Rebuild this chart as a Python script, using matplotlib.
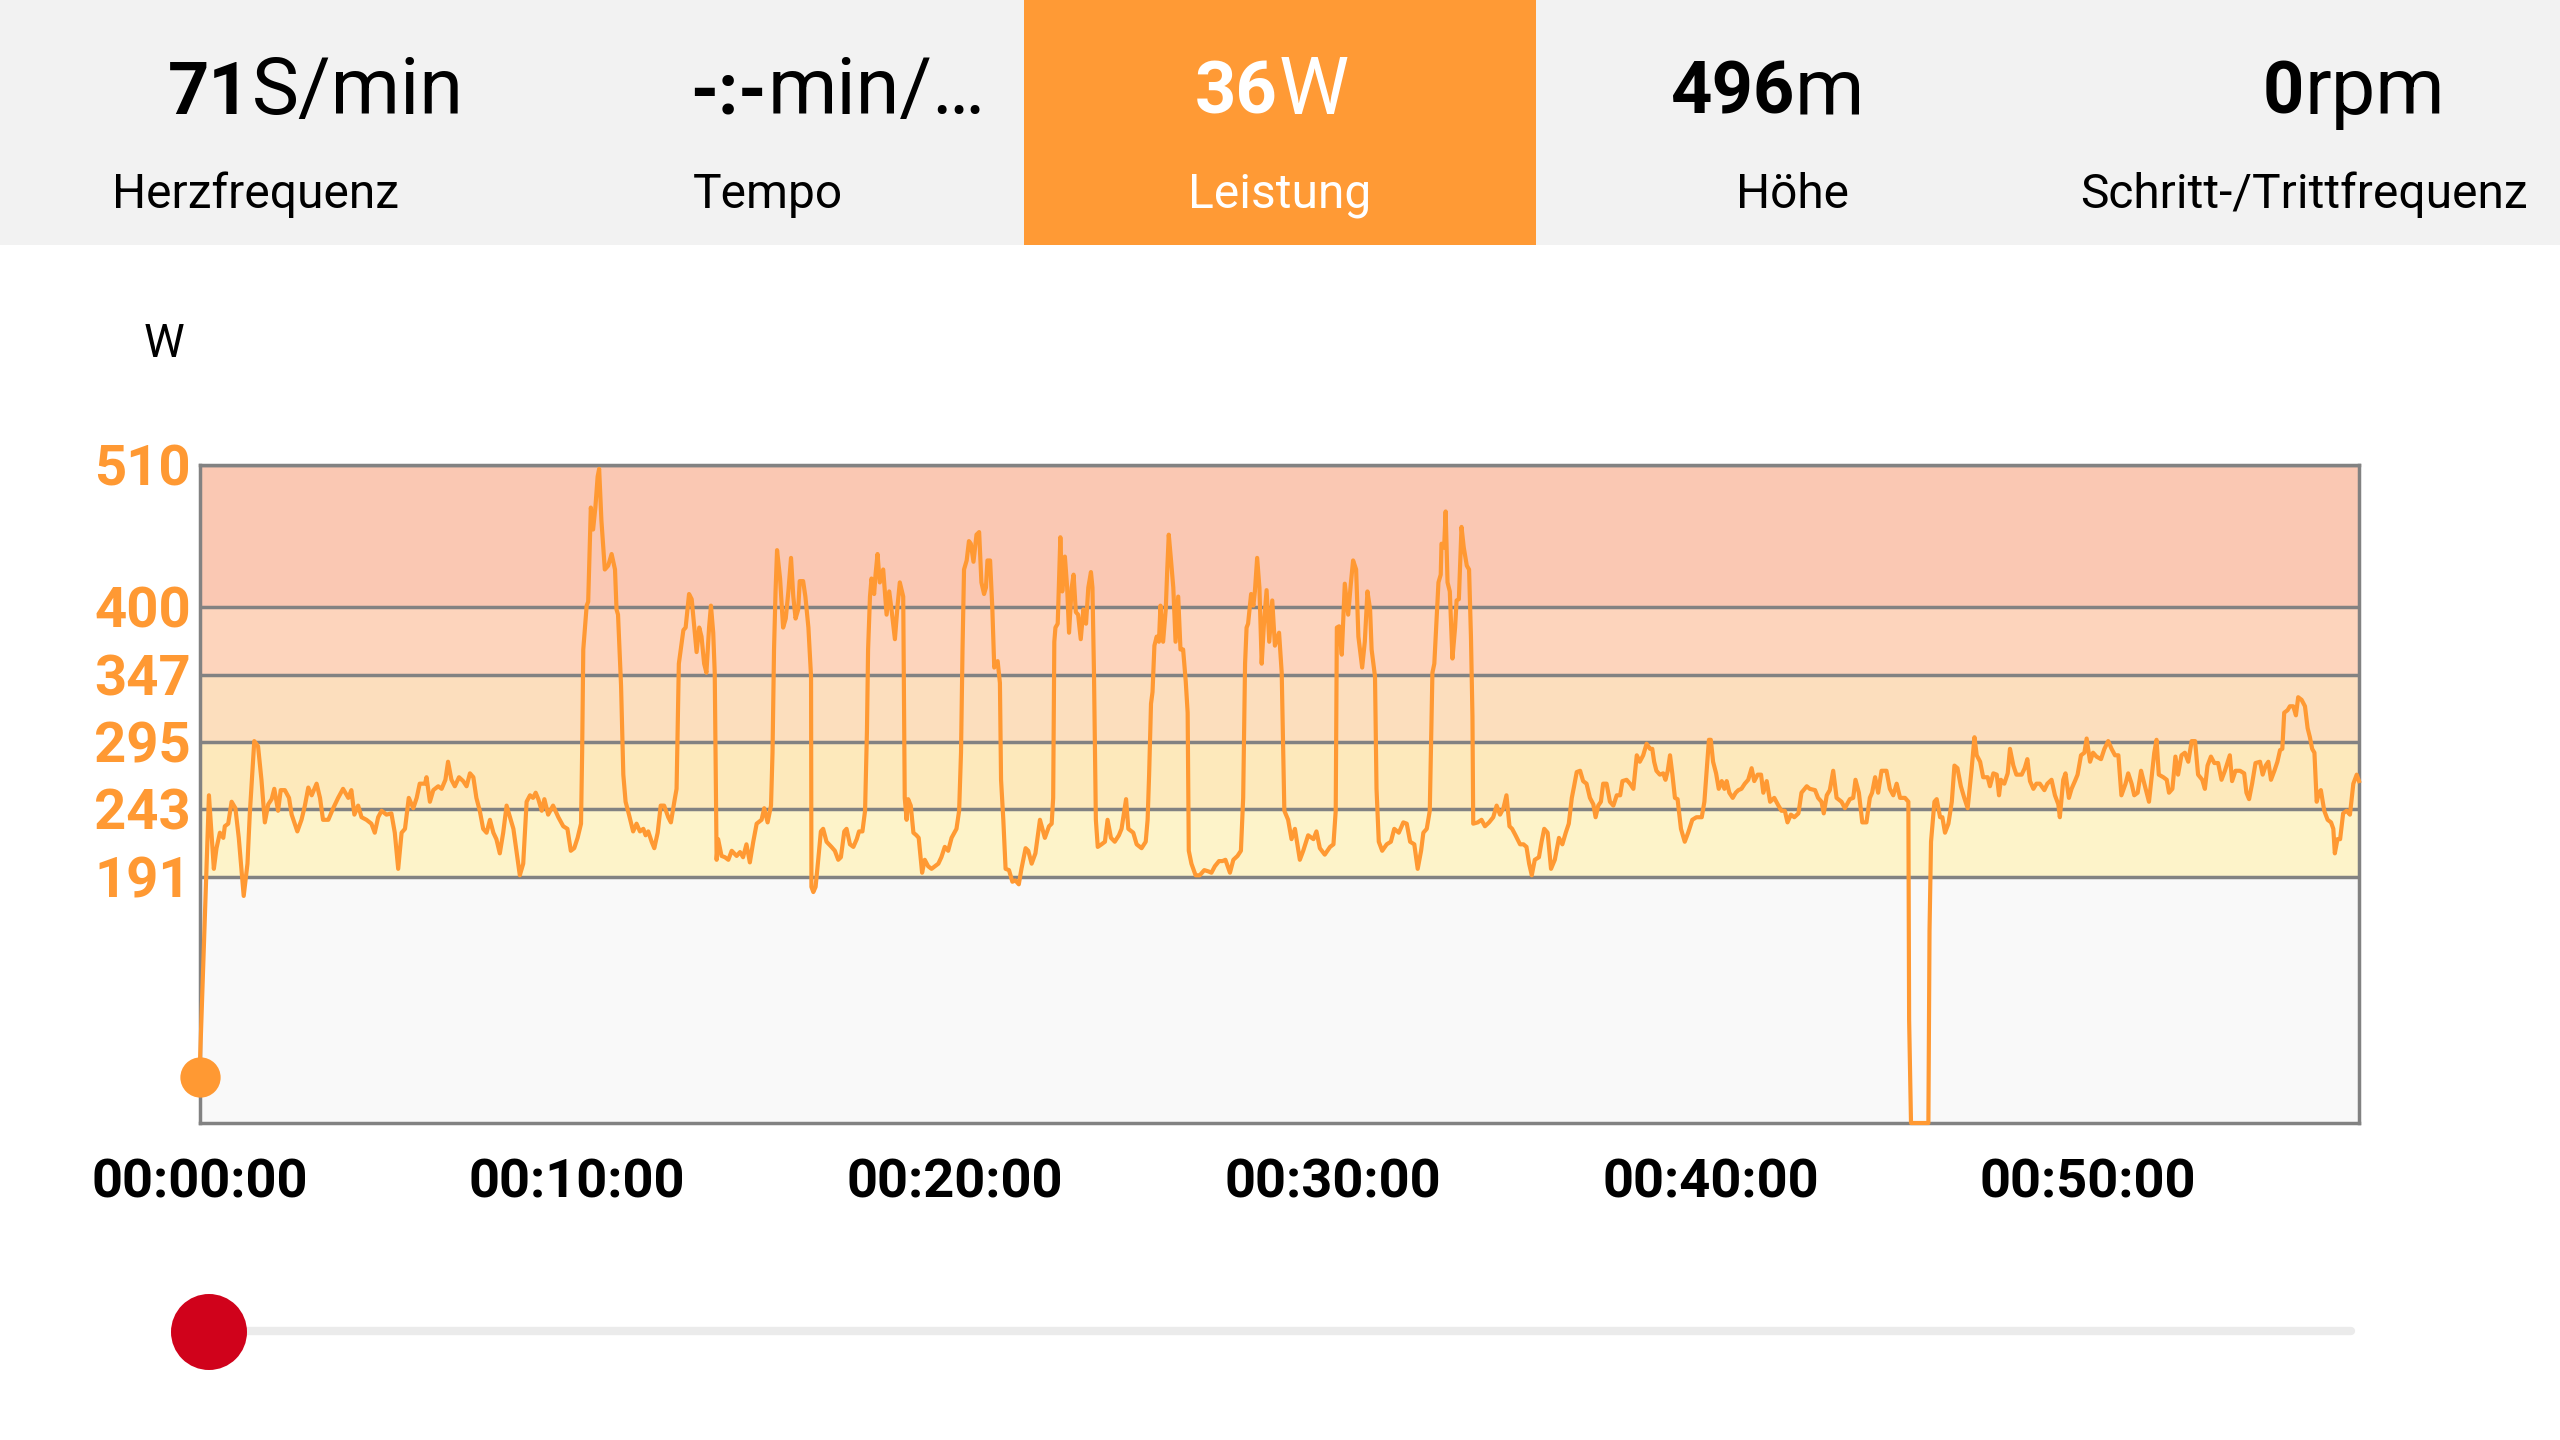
import numpy as np
import matplotlib.pyplot as plt
from matplotlib.patches import Rectangle, Circle

plt.rcParams['font.family'] = ['Roboto', 'DejaVu Sans']

# header tiles
tile_values = ["71", "-:-", "36", "496", "0"]
tile_units = ["S/min", "min/\u2026", "W", "m", "rpm"]
tile_labels = ["Herzfrequenz", "Tempo", "Leistung", "Höhe", "Schritt-/Trittfrequenz"]
active_tile = 2

# power zones (W)
zone_edges = [0, 191, 243, 295, 347, 400, 510]
zone_colors = ["#f9f9f9", "#fdf3c9", "#fde9bb", "#fcdebd", "#fdd4bc", "#fac8b3"]
ytick_vals = [191, 243, 295, 347, 400, 510]

xtick_min = [0, 10, 20, 30, 40, 50]
xtick_labels = ["00:00:00", "00:10:00", "00:20:00", "00:30:00", "00:40:00", "00:50:00"]
t_end = 57.17

# power trace, time in minutes
t1 = [0.0, 0.25, 0.38, 0.45, 0.54, 0.63, 0.67, 0.76, 0.85, 0.95,
      1.04, 1.17, 1.27, 1.33, 1.45, 1.55, 1.64, 1.73, 1.82, 1.91,
      1.98, 2.08, 2.15, 2.26, 2.37, 2.44, 2.52, 2.59, 2.70, 2.79,
      2.88, 2.97, 3.10, 3.19, 3.27, 3.41, 3.54, 3.67, 3.80, 3.94,
      4.02, 4.10, 4.20, 4.29, 4.42, 4.55, 4.64, 4.73, 4.82, 4.95,
      5.08, 5.17, 5.26, 5.35, 5.44, 5.54, 5.66, 5.75, 5.83, 5.97,
      6.01, 6.10, 6.19, 6.32, 6.41, 6.51, 6.58, 6.67, 6.76, 6.87,
      6.98, 7.07, 7.16, 7.25, 7.33, 7.42, 7.51, 7.60, 7.69, 7.78,
      7.86, 7.95, 8.04, 8.13, 8.22, 8.31, 8.39, 8.48, 8.57, 8.66,
      8.75, 8.83, 8.90, 8.97, 9.06, 9.13, 9.23, 9.36]
w1 = [36, 254, 197, 213, 225, 221, 230, 232, 249, 244,
      221, 176, 201, 239, 296, 292, 266, 233, 247, 251,
      259, 242, 258, 258, 252, 239, 232, 226, 235, 246,
      260, 254, 263, 252, 235, 235, 244, 252, 259, 252,
      258, 239, 246, 237, 235, 232, 225, 237, 242, 239,
      240, 225, 197, 225, 228, 252, 244, 252, 263, 263,
      268, 249, 258, 261, 259, 266, 280, 266, 261, 268,
      265, 261, 271, 268, 252, 242, 228, 225, 235, 225,
      220, 209, 225, 246, 237, 228, 211, 192, 201, 249,
      254, 252, 256, 251, 242, 251, 239, 246]

t2 = [9.50, 9.63, 9.74, 9.83, 9.92, 10.01, 10.10, 10.13, 10.16, 10.25,
      10.29, 10.36, 10.42, 10.48, 10.54, 10.58, 10.64, 10.73, 10.82, 10.91,
      11.00, 11.04, 11.08, 11.16, 11.22, 11.28, 11.37, 11.48, 11.57, 11.66,
      11.75, 11.81, 11.88, 11.97, 12.04, 12.13, 12.21, 12.30, 12.41, 12.48,
      12.57, 12.63, 12.69, 12.74, 12.81, 12.87, 12.96, 13.03, 13.10, 13.16,
      13.23, 13.29, 13.36, 13.42, 13.49, 13.54, 13.60, 13.64, 13.69, 13.73,
      13.82, 13.91, 14.00, 14.09, 14.22, 14.31, 14.39, 14.48, 14.57, 14.66,
      14.75, 14.88, 14.95, 15.04, 15.13, 15.17, 15.21, 15.25, 15.29, 15.37,
      15.45, 15.52, 15.59, 15.66, 15.72, 15.78, 15.85, 15.89, 15.98, 16.04,
      16.12, 16.19, 16.20, 16.25, 16.31, 16.38, 16.45, 16.51, 16.60, 16.73,
      16.82, 16.91, 16.98, 17.07, 17.13, 17.22, 17.31, 17.40, 17.46, 17.55,
      17.62, 17.67, 17.70, 17.75, 17.79, 17.86, 17.90, 17.95, 18.01, 18.10,
      18.19, 18.26, 18.32, 18.41, 18.48, 18.54, 18.63, 18.67, 18.72, 18.76,
      18.83, 18.90]
w2 = [237, 230, 228, 211, 213, 221, 232, 287, 367, 401,
      404, 477, 460, 477, 501, 507, 467, 429, 432, 441,
      429, 398, 394, 339, 270, 249, 239, 226, 232, 226,
      228, 223, 226, 218, 213, 225, 246, 246, 237, 233,
      249, 259, 356, 367, 382, 384, 410, 406, 384, 365,
      384, 377, 356, 349, 384, 401, 380, 349, 204, 220,
      207, 206, 204, 211, 207, 210, 206, 216, 202, 218,
      232, 235, 244, 233, 246, 287, 367, 412, 444, 422,
      384, 391, 412, 438, 408, 391, 398, 420, 420, 408,
      384, 346, 183, 179, 183, 204, 226, 228, 218, 214,
      211, 204, 206, 226, 228, 216, 214, 220, 226, 226,
      242, 304, 367, 408, 422, 410, 426, 441, 419, 429,
      394, 412, 398, 375, 401, 419, 408, 252, 235, 251,
      246, 225]

t3 = [18.98, 19.04, 19.13, 19.20, 19.29, 19.38, 19.47, 19.56, 19.64, 19.73,
      19.82, 19.91, 20.04, 20.11, 20.16, 20.20, 20.24, 20.31, 20.37, 20.42,
      20.49, 20.57, 20.64, 20.70, 20.77, 20.82, 20.86, 20.93, 20.99, 21.04,
      21.13, 21.19, 21.22, 21.28, 21.34, 21.43, 21.52, 21.60, 21.69, 21.76,
      21.87, 21.94, 22.03, 22.13, 22.25, 22.38, 22.49, 22.56, 22.60, 22.63,
      22.66, 22.72, 22.79, 22.84, 22.91, 22.97, 23.02, 23.09, 23.14, 23.20,
      23.26, 23.33, 23.40, 23.47, 23.53, 23.60, 23.64, 23.68, 23.73, 23.78,
      23.88, 23.97, 24.04, 24.13, 24.23, 24.34, 24.41, 24.53, 24.59, 24.72,
      24.81, 24.94, 25.05, 25.10, 25.14, 25.19, 25.23, 25.28, 25.34, 25.40,
      25.44, 25.51, 25.58, 25.62, 25.66, 25.72, 25.78, 25.84, 25.91, 25.97,
      26.04, 26.11, 26.16, 26.19, 26.26, 26.37, 26.48, 26.60, 26.71, 26.79,
      26.88, 26.99, 27.08, 27.16, 27.28, 27.37, 27.48, 27.57, 27.63, 27.68,
      27.72, 27.76, 27.84, 27.90, 27.94, 28.00, 28.06, 28.12, 28.18, 28.25,
      28.32, 28.40, 28.47]
w3 = [223, 221, 194, 204, 199, 197, 199, 201, 206, 214,
      211, 221, 228, 242, 287, 367, 429, 436, 451, 449,
      435, 456, 458, 419, 410, 415, 436, 436, 398, 353,
      358, 341, 266, 235, 197, 196, 187, 188, 185, 197,
      213, 211, 201, 209, 235, 221, 230, 232, 252, 373,
      384, 387, 454, 412, 439, 415, 380, 415, 425, 396,
      394, 375, 398, 387, 415, 427, 415, 349, 235, 214,
      216, 218, 235, 221, 218, 223, 228, 251, 228, 225,
      216, 213, 218, 235, 270, 325, 334, 370, 377, 373,
      401, 373, 398, 429, 456, 436, 415, 373, 408, 367,
      367, 342, 318, 211, 201, 192, 192, 196, 195, 194,
      199, 203, 203, 204, 194, 204, 207, 211, 252, 356,
      384, 387, 410, 401, 412, 438, 415, 356, 387, 413,
      373, 405, 370]

t4 = [28.58, 28.65, 28.69, 28.72, 28.82, 28.91, 29.00, 29.13, 29.22, 29.35,
      29.49, 29.57, 29.66, 29.79, 29.93, 30.02, 30.08, 30.11, 30.17, 30.24,
      30.32, 30.41, 30.48, 30.54, 30.62, 30.68, 30.78, 30.85, 30.92, 30.99,
      31.03, 31.12, 31.16, 31.22, 31.31, 31.43, 31.54, 31.63, 31.75, 31.87,
      31.96, 32.05, 32.16, 32.25, 32.34, 32.40, 32.49, 32.57, 32.64, 32.69,
      32.75, 32.80, 32.86, 32.88, 32.95, 32.99, 33.04, 33.10, 33.17, 33.24,
      33.28, 33.34, 33.41, 33.47, 33.55, 33.61, 33.66, 33.70, 33.72, 33.84,
      33.94, 34.03, 34.14, 34.25, 34.34, 34.43, 34.52, 34.60, 34.68, 34.75,
      34.84, 34.96, 35.05, 35.13, 35.20, 35.27, 35.35, 35.46, 35.53, 35.60,
      35.69, 35.78, 35.88, 35.99, 36.08, 36.17, 36.25, 36.33, 36.39, 36.46,
      36.55, 36.63, 36.72, 36.81, 36.90, 36.96, 37.03, 37.10, 37.16, 37.25,
      37.34, 37.43, 37.52, 37.61, 37.67, 37.78, 37.87, 37.96, 38.05]
w4 = [380, 349, 287, 242, 235, 220, 228, 204, 211, 223,
      220, 226, 213, 208, 214, 216, 242, 384, 385, 363,
      418, 394, 418, 436, 429, 377, 353, 373, 412, 398,
      367, 346, 259, 218, 211, 216, 218, 228, 225, 233,
      232, 218, 216, 197, 211, 225, 228, 242, 349, 356,
      391, 419, 425, 449, 446, 474, 419, 412, 360, 384,
      405, 406, 462, 446, 432, 429, 377, 315, 232, 233,
      235, 230, 233, 237, 246, 239, 244, 254, 230, 228,
      223, 216, 216, 214, 201, 192, 204, 206, 218, 228,
      225, 197, 204, 221, 216, 225, 232, 252, 261, 272,
      273, 265, 263, 252, 247, 237, 246, 249, 263, 263,
      249, 246, 254, 254, 265, 266, 263, 259, 285]

t5 = [38.13, 38.22, 38.31, 38.40, 38.46, 38.51, 38.57, 38.66, 38.75, 38.81,
      38.87, 38.93, 38.99, 39.06, 39.13, 39.22, 39.32, 39.41, 39.52, 39.63,
      39.77, 39.84, 39.90, 39.96, 40.01, 40.07, 40.15, 40.22, 40.30, 40.37,
      40.43, 40.50, 40.59, 40.67, 40.74, 40.82, 40.91, 41.00, 41.09, 41.16,
      41.25, 41.34, 41.40, 41.49, 41.58, 41.69, 41.80, 41.88, 41.97, 42.04,
      42.13, 42.22, 42.33, 42.41, 42.55, 42.63, 42.77, 42.85, 42.94, 43.00,
      43.08, 43.16, 43.25, 43.34, 43.47, 43.56, 43.69, 43.78, 43.84, 43.93,
      44.02, 44.13, 44.22, 44.28, 44.36, 44.44, 44.53, 44.66, 44.75, 44.84,
      44.93, 45.02, 45.15, 45.24, 45.26, 45.31, 45.77, 45.80, 45.84, 45.93,
      45.99, 46.08, 46.14, 46.21, 46.30, 46.39, 46.46, 46.54, 46.63, 46.72,
      46.81, 46.91, 46.99, 47.05, 47.14, 47.22, 47.34, 47.40, 47.49, 47.58,
      47.64]
w5 = [280, 285, 294, 290, 290, 280, 273, 270, 271, 266,
      273, 285, 271, 252, 251, 228, 218, 225, 235, 237,
      237, 249, 273, 297, 297, 280, 271, 259, 265, 259,
      265, 256, 252, 256, 258, 259, 263, 266, 275, 265,
      270, 270, 256, 265, 249, 252, 246, 242, 242, 233,
      239, 237, 240, 256, 261, 259, 258, 252, 249, 240,
      254, 258, 273, 252, 249, 244, 251, 252, 266, 256,
      233, 233, 252, 256, 268, 256, 273, 273, 259, 254,
      263, 252, 252, 249, 80, 0, 0, 149, 218, 249,
      251, 237, 237, 225, 232, 249, 277, 275, 261, 252,
      244, 273, 299, 285, 280, 268, 268, 261, 271, 270,
      254]

t6 = [47.69, 47.78, 47.87, 47.93, 48.02, 48.10, 48.24, 48.32, 48.39, 48.46,
      48.55, 48.63, 48.72, 48.84, 48.92, 49.03, 49.12, 49.21, 49.25, 49.34,
      49.40, 49.49, 49.56, 49.65, 49.72, 49.81, 49.90, 49.96, 50.05, 50.13,
      50.22, 50.34, 50.43, 50.53, 50.62, 50.71, 50.80, 50.88, 50.99, 51.06,
      51.15, 51.22, 51.31, 51.40, 51.46, 51.55, 51.61, 51.68, 51.75, 51.81,
      51.87, 51.99, 52.08, 52.14, 52.23, 52.31, 52.38, 52.47, 52.56, 52.65,
      52.74, 52.83, 52.91, 53.02, 53.09, 53.16, 53.25, 53.34, 53.44, 53.53,
      53.62, 53.75, 53.81, 53.90, 54.02, 54.13, 54.19, 54.26, 54.34, 54.43,
      54.55, 54.62, 54.70, 54.77, 54.84, 54.93, 55.01, 55.08, 55.14, 55.19,
      55.28, 55.34, 55.43, 55.50, 55.56, 55.65, 55.74, 55.81, 55.87, 55.93,
      55.99, 56.05, 56.11, 56.16, 56.25, 56.34, 56.43, 56.49, 56.53, 56.60,
      56.67, 56.75, 56.84, 56.93, 57.02, 57.11, 57.17]
w6 = [266, 263, 271, 290, 277, 270, 270, 275, 282, 265,
      259, 263, 263, 258, 263, 266, 254, 247, 237, 266,
      271, 252, 259, 265, 270, 285, 287, 298, 280, 287,
      284, 282, 290, 296, 290, 285, 285, 254, 263, 271,
      263, 254, 256, 273, 266, 256, 249, 268, 287, 297,
      270, 268, 266, 256, 259, 284, 270, 285, 287, 280,
      296, 296, 270, 266, 259, 277, 284, 279, 279, 266,
      273, 285, 265, 273, 273, 271, 256, 251, 263, 279,
      280, 270, 277, 280, 266, 273, 280, 289, 290, 318,
      320, 323, 323, 316, 330, 328, 323, 306, 299, 290,
      287, 249, 256, 258, 242, 235, 233, 228, 209, 220,
      220, 240, 242, 239, 263, 270, 265]

t = np.array(t1 + t2 + t3 + t4 + t5 + t6)
w = np.array(w1 + w2 + w3 + w4 + w5 + w6)

ORANGE = "#ff9933"
GRID = "#828282"

fig = plt.figure(figsize=(25.6, 14.4), dpi=100, facecolor="white")

# overlay in pixel units for the app chrome
ov = fig.add_axes([0, 0, 1, 1], zorder=0)
ov.set_xlim(0, 2560)
ov.set_ylim(1440, 0)
ov.axis("off")

ov.add_patch(Rectangle((0, 0), 2560, 245, color="#f2f2f2", lw=0))
ov.add_patch(Rectangle((1024, 0), 512, 245, color="#ff9a35", lw=0))

split_x = [251, 767, 1278, 1794, 2304]
for i in range(5):
    col = "white" if i == active_tile else "black"
    ov.text(split_x[i], 114, tile_values[i], fontsize=52, fontweight="bold",
            color=col, ha="right", va="baseline")
    ov.text(split_x[i] + 1, 114, tile_units[i], fontsize=57,
            color=col, ha="left", va="baseline")
    ov.text(256 + 512 * i, 208, tile_labels[i], fontsize=34.5,
            color=col, ha="center", va="baseline")

ov.text(164, 357, "W", fontsize=33, color="black", ha="center", va="baseline")

# slider
ov.plot([209, 2351], [1331, 1331], color="#ebebeb", lw=6, solid_capstyle="round", zorder=1)
ov.add_patch(Circle((209, 1332), 38, color="#d0021b", lw=0, zorder=3))

# chart
ax = fig.add_axes([199.5 / 2560, 317 / 1440, (2359 - 199.5) / 2560, (1123 - 465) / 1440], zorder=2)
for i in range(len(zone_colors)):
    ax.axhspan(zone_edges[i], zone_edges[i + 1], color=zone_colors[i], lw=0, zorder=0)
for v in ytick_vals:
    ax.axhline(v, color=GRID, lw=2.5, zorder=1)

ax.plot(t, w, color=ORANGE, lw=3.0, solid_joinstyle="round", zorder=3, clip_on=False)
ax.plot(t[0], w[0], "o", color=ORANGE, ms=29, mew=0, zorder=4, clip_on=False)

ax.set_xlim(0, t_end)
ax.set_ylim(0, 510)
ax.set_yticks(ytick_vals)
ax.set_yticklabels([str(v) for v in ytick_vals], color=ORANGE, fontsize=40.5, fontweight="bold")
ax.set_xticks(xtick_min)
ax.set_xticklabels(xtick_labels, fontsize=39, fontweight="bold")
ax.tick_params(axis="y", length=0, pad=6)
ax.tick_params(axis="x", length=0, pad=25)
for s in ax.spines.values():
    s.set_color(GRID)
    s.set_linewidth(2.5)
    s.set_zorder(2)

fig.savefig("out.png", dpi=100, facecolor="white")
